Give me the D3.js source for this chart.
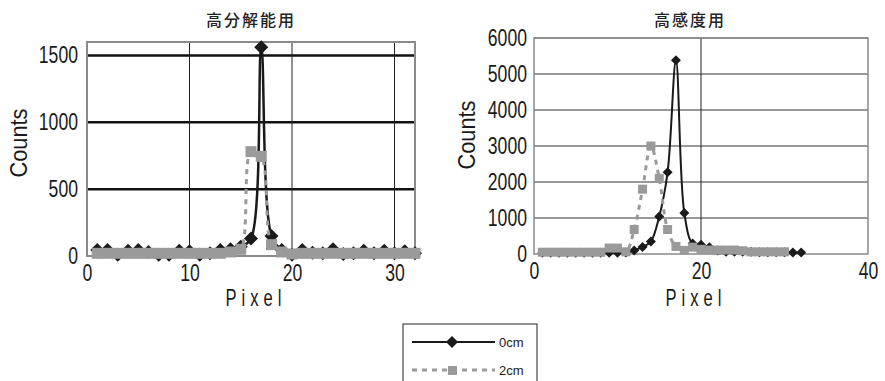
<!DOCTYPE html>
<html>
<head>
<meta charset="utf-8">
<script src="https://cdn.jsdelivr.net/npm/d3@7"></script>
<style>
    body { margin: 0; background: #fff; }
</style>
</head>
<body>
<svg id="chart" width="885" height="381"></svg>
<script>
// ---- data ----
const pixelsLeft = [1,2,3,4,5,6,7,8,9,10,11,12,13,14,15,16,17,18,19,20,21,22,23,24,25,26,27,28,29,30,31,32];
const left0cm = [45,45,10,40,45,30,10,10,40,35,10,20,45,50,70,130,1560,150,45,10,45,25,20,50,15,20,40,20,40,20,35,20];
const left2cm = [20,20,20,20,20,20,20,20,20,20,20,20,20,30,50,780,745,85,30,15,20,20,20,20,20,20,20,20,20,20,20,20];

const pixelsRight0 = [1,2,3,4,5,6,7,8,9,10,11,12,13,14,15,16,17,18,19,20,21,22,23,24,25,26,27,28,29,30,31,32];
const right0cm = [35,35,35,35,35,35,35,35,35,35,40,100,195,350,1045,2270,5380,1140,290,260,190,100,60,60,60,60,50,50,50,50,40,40];
const pixelsRight2 = [1,2,3,4,5,6,7,8,9,10,11,12,13,14,15,16,17,18,19,20,21,22,23,24,25,26,27,28,29,30];
const right2cm = [50,50,50,50,50,50,50,50,165,165,60,680,1800,3000,2100,680,210,100,190,130,110,110,110,110,90,60,60,60,60,60];

const xTicksLeft = [0, 10, 20, 30];
const yTicksLeft = [0, 500, 1000, 1500];
const xTicksRight = [0, 20, 40];
const yTicksRight = [0, 1000, 2000, 3000, 4000, 5000, 6000];

const svg = d3.select('#chart');
const FONT = 'Liberation Sans, Arial, sans-serif';

function narrow(sel, size, perChar) {
    // condensed gothic-style numerals
    sel.attr('font-family', FONT)
        .attr('font-size', size + 'px')
        .attr('fill', '#1a1a1a')
        .attr('lengthAdjust', 'spacingAndGlyphs')
        .attr('textLength', function () { return this.textContent.length * perChar; });
}

function diamondPath(r) {
    return `M0,${-r}L${r},0L0,${r}L${-r},0Z`;
}

function drawChart(cfg) {
    const x = d3.scaleLinear().domain(cfg.xDomain).range([cfg.left, cfg.right]);
    const y = d3.scaleLinear().domain(cfg.yDomain).range([cfg.bottom, cfg.top]);
    const g = svg.append('g');

    // horizontal grid
    g.selectAll('.hgrid')
        .data(cfg.yTicks.filter(d => d > 0))
        .enter().append('line')
        .attr('x1', cfg.left).attr('x2', cfg.right)
        .attr('y1', d => y(d)).attr('y2', d => y(d))
        .attr('stroke', cfg.hGridColor)
        .attr('stroke-width', cfg.hGridWidth);

    // vertical grid
    g.selectAll('.vgrid')
        .data(cfg.xTicks.filter(d => d > cfg.xDomain[0] && d < cfg.xDomain[1]))
        .enter().append('line')
        .attr('x1', d => x(d)).attr('x2', d => x(d))
        .attr('y1', cfg.top).attr('y2', cfg.bottom)
        .attr('stroke', '#222')
        .attr('stroke-width', 1);

    // plot frame
    g.append('rect')
        .attr('x', cfg.left).attr('y', cfg.top)
        .attr('width', cfg.right - cfg.left)
        .attr('height', cfg.bottom - cfg.top)
        .attr('fill', 'none')
        .attr('stroke', '#8a8a8a')
        .attr('stroke-width', cfg.frameWidth);

    // axes (labels only)
    const yAxis = g.append('g')
        .attr('transform', `translate(${cfg.left},0)`)
        .call(d3.axisLeft(y).tickValues(cfg.yTicks).tickSize(0).tickPadding(cfg.yPad).tickFormat(d3.format('d')));
    yAxis.select('.domain').remove();
    yAxis.selectAll('text').call(narrow, 23, 9.8);

    const xAxis = g.append('g')
        .attr('transform', `translate(0,${cfg.bottom})`)
        .call(d3.axisBottom(x).tickValues(cfg.xTicks).tickSize(0).tickPadding(9).tickFormat(d3.format('d')));
    xAxis.select('.domain').remove();
    xAxis.selectAll('text').call(narrow, 23, 9.8).attr('dy', '0.71em');

    // titles
    g.append('text')
        .attr('x', cfg.titleX).attr('y', 26)
        .attr('text-anchor', 'middle')
        .attr('font-family', 'Noto Sans CJK JP, sans-serif')
        .attr('font-size', '16px')
        .attr('font-weight', 500)
        .attr('letter-spacing', '2px')
        .attr('fill', '#222')
        .text(cfg.title);

    g.append('text')
        .attr('transform', `translate(${cfg.countsX},${cfg.countsY}) rotate(-90)`)
        .attr('text-anchor', 'middle')
        .attr('dy', '0.35em')
        .attr('font-family', FONT)
        .attr('font-size', '23px')
        .attr('fill', '#1a1a1a')
        .attr('textLength', 69)
        .attr('lengthAdjust', 'spacingAndGlyphs')
        .text('Counts');

    // "Pixel": narrow glyphs, wide spacing
    g.append('text')
        .attr('transform', `translate(${cfg.pixelX},306) scale(0.72,1)`)
        .attr('text-anchor', 'middle')
        .attr('font-family', FONT)
        .attr('font-size', '23px')
        .attr('letter-spacing', '7px')
        .attr('fill', '#1a1a1a')
        .text('Pixel');

    const line = d3.line()
        .x(d => x(d[0]))
        .y(d => y(d[1]))
        .curve(d3.curveCatmullRom.alpha(0.5));

    const s0 = d3.zip(cfg.x0, cfg.y0);
    const s2 = d3.zip(cfg.x2, cfg.y2);

    // 0cm series
    g.append('path')
        .datum(s0)
        .attr('d', line)
        .attr('fill', 'none')
        .attr('stroke', '#1a1a1a')
        .attr('stroke-width', cfg.lineWidth);
    g.selectAll('.dia')
        .data(s0)
        .enter().append('path')
        .attr('d', diamondPath(cfg.diamondR))
        .attr('transform', d => `translate(${x(d[0])},${y(d[1])})`)
        .attr('fill', '#1a1a1a');

    // 2cm series
    g.append('path')
        .datum(s2)
        .attr('d', line)
        .attr('fill', 'none')
        .attr('stroke', '#9a9a9a')
        .attr('stroke-width', 3)
        .attr('stroke-dasharray', '5,5');
    g.selectAll('.sq')
        .data(s2)
        .enter().append('rect')
        .attr('x', d => x(d[0]) - cfg.squareSize / 2)
        .attr('y', d => y(d[1]) - cfg.squareSize / 2)
        .attr('width', cfg.squareSize)
        .attr('height', cfg.squareSize)
        .attr('fill', '#9a9a9a');
}

drawChart({
    left: 87, right: 415, top: 42, bottom: 256,
    xDomain: [0, 32], yDomain: [0, 1600],
    xTicks: xTicksLeft, yTicks: yTicksLeft,
    hGridColor: '#111', hGridWidth: 2.5, frameWidth: 2,
    yPad: 9,
    title: '高分解能用', titleX: 251,
    countsX: 19, countsY: 143, pixelX: 256,
    x0: pixelsLeft, y0: left0cm, x2: pixelsLeft, y2: left2cm,
    lineWidth: 2.5, diamondR: 7, squareSize: 11
});

drawChart({
    left: 534, right: 868, top: 38, bottom: 254,
    xDomain: [0, 40], yDomain: [0, 6000],
    xTicks: xTicksRight, yTicks: yTicksRight,
    hGridColor: '#333', hGridWidth: 1, frameWidth: 1.5,
    yPad: 7,
    title: '高感度用', titleX: 690,
    countsX: 467, countsY: 135, pixelX: 696,
    x0: pixelsRight0, y0: right0cm, x2: pixelsRight2, y2: right2cm,
    lineWidth: 2, diamondR: 5, squareSize: 9
});

// legend
const legend = svg.append('g');
legend.append('rect')
    .attr('x', 403).attr('y', 324)
    .attr('width', 134).attr('height', 80)
    .attr('fill', '#fff')
    .attr('stroke', '#222')
    .attr('stroke-width', 1);
legend.append('line')
    .attr('x1', 412).attr('x2', 495).attr('y1', 342).attr('y2', 342)
    .attr('stroke', '#1a1a1a').attr('stroke-width', 2);
legend.append('path')
    .attr('d', diamondPath(6))
    .attr('transform', 'translate(452,342)')
    .attr('fill', '#1a1a1a');
legend.append('line')
    .attr('x1', 412).attr('x2', 495).attr('y1', 370).attr('y2', 370)
    .attr('stroke', '#9a9a9a').attr('stroke-width', 3)
    .attr('stroke-dasharray', '5,5');
legend.append('rect')
    .attr('x', 448).attr('y', 366).attr('width', 9).attr('height', 9)
    .attr('fill', '#9a9a9a');
legend.selectAll('.lab')
    .data(['0cm', '2cm'])
    .enter().append('text')
    .attr('x', 499)
    .attr('y', (d, i) => 347 + i * 28)
    .attr('font-family', FONT)
    .attr('font-size', '13px')
    .attr('fill', '#1a1a1a')
    .text(d => d);
</script>
</body>
</html>
